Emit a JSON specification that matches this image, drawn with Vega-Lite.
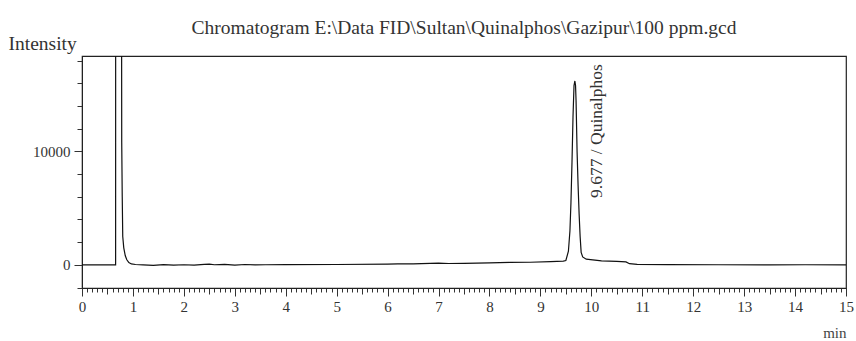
{
  "$schema": "https://vega.github.io/schema/vega-lite/v6.json",
  "width": 764,
  "height": 232,
  "autosize": "none",
  "padding": {"left": 82, "top": 56, "right": 10, "bottom": 53},
  "background": "white",
  "config": {"view": {"stroke": "#222", "strokeWidth": 1.2}, "font": "Liberation Serif"},
  "title": {"text": "Chromatogram E:\\Data FID\\Sultan\\Quinalphos\\Gazipur\\100 ppm.gcd", "fontSize": 19.5, "font": "Liberation Serif", "fontWeight": "normal", "color": "#333", "offset": -5, "anchor": "middle"},
  "layer": [
    {
      "data": {"values": [
        {"t": 0, "v": 0}, {"t": 0.66, "v": 0}, {"t": 0.661, "v": 30000}, {"t": 0.775, "v": 30000},
        {"t": 0.78, "v": 10800}, {"t": 0.79, "v": 6000}, {"t": 0.8, "v": 2500}, {"t": 0.82, "v": 1500},
        {"t": 0.85, "v": 800}, {"t": 0.88, "v": 450}, {"t": 0.92, "v": 200}, {"t": 0.97, "v": 80},
        {"t": 1.05, "v": 30}, {"t": 1.2, "v": 0}, {"t": 1.4, "v": -40}, {"t": 1.6, "v": 20},
        {"t": 1.8, "v": -30}, {"t": 2.0, "v": 10}, {"t": 2.2, "v": -20}, {"t": 2.4, "v": 40},
        {"t": 2.5, "v": 70}, {"t": 2.6, "v": 10}, {"t": 2.8, "v": 50}, {"t": 3.0, "v": -20},
        {"t": 3.2, "v": 30}, {"t": 3.4, "v": -10}, {"t": 3.6, "v": 10}, {"t": 4.0, "v": 20},
        {"t": 5.0, "v": 30}, {"t": 6.0, "v": 60}, {"t": 6.2, "v": 80}, {"t": 6.5, "v": 90},
        {"t": 7.0, "v": 150}, {"t": 7.2, "v": 120}, {"t": 7.5, "v": 130}, {"t": 8.0, "v": 170},
        {"t": 8.4, "v": 210}, {"t": 8.8, "v": 230}, {"t": 9.2, "v": 280}, {"t": 9.45, "v": 330},
        {"t": 9.5, "v": 380}, {"t": 9.55, "v": 1200}, {"t": 9.58, "v": 3000}, {"t": 9.6, "v": 5500},
        {"t": 9.62, "v": 9000}, {"t": 9.64, "v": 13000}, {"t": 9.66, "v": 15800}, {"t": 9.677, "v": 16200},
        {"t": 9.69, "v": 15800}, {"t": 9.7, "v": 14500}, {"t": 9.72, "v": 10000}, {"t": 9.74, "v": 7000},
        {"t": 9.76, "v": 4500}, {"t": 9.78, "v": 2500}, {"t": 9.8, "v": 1100}, {"t": 9.83, "v": 700},
        {"t": 9.9, "v": 500}, {"t": 10.2, "v": 350}, {"t": 10.5, "v": 300}, {"t": 10.68, "v": 260},
        {"t": 10.75, "v": 100}, {"t": 10.9, "v": 40}, {"t": 11.5, "v": 20}, {"t": 12.5, "v": 10},
        {"t": 13.5, "v": 0}, {"t": 14.2, "v": 10}, {"t": 15, "v": 0}
      ]},
      "mark": {"type": "line", "color": "#111", "strokeWidth": 1.2, "clip": true},
      "encoding": {
        "x": {
          "field": "t", "type": "quantitative",
          "scale": {"domain": [0, 15], "nice": false, "zero": false},
          "axis": {
            "values": [0,0.1,0.2,0.3,0.4,0.5,0.6,0.7,0.8,0.9,1,1.1,1.2,1.3,1.4,1.5,1.6,1.7,1.8,1.9,2,2.1,2.2,2.3,2.4,2.5,2.6,2.7,2.8,2.9,3,3.1,3.2,3.3,3.4,3.5,3.6,3.7,3.8,3.9,4,4.1,4.2,4.3,4.4,4.5,4.6,4.7,4.8,4.9,5,5.1,5.2,5.3,5.4,5.5,5.6,5.7,5.8,5.9,6,6.1,6.2,6.3,6.4,6.5,6.6,6.7,6.8,6.9,7,7.1,7.2,7.3,7.4,7.5,7.6,7.7,7.8,7.9,8,8.1,8.2,8.3,8.4,8.5,8.6,8.7,8.8,8.9,9,9.1,9.2,9.3,9.4,9.5,9.6,9.7,9.8,9.9,10,10.1,10.2,10.3,10.4,10.5,10.6,10.7,10.8,10.9,11,11.1,11.2,11.3,11.4,11.5,11.6,11.7,11.8,11.9,12,12.1,12.2,12.3,12.4,12.5,12.6,12.7,12.8,12.9,13,13.1,13.2,13.3,13.4,13.5,13.6,13.7,13.8,13.9,14,14.1,14.2,14.3,14.4,14.5,14.6,14.7,14.8,14.9,15],
            "tickCount": 1000,
            "tickSize": {"condition": [{"test": "abs(datum.value - round(datum.value)) < 0.001", "value": 8}, {"test": "abs(datum.value*2 - round(datum.value*2)) < 0.001", "value": 6}], "value": 4},
            "labelExpr": "abs(datum.value - round(datum.value)) < 0.001 ? format(round(datum.value), 'd') : ''",
            "labelOverlap": false,
            "labelFlush": false,
            "labelFontSize": 15,
            "labelColor": "#333",
            "labelPadding": 3,
            "grid": false,
            "domainColor": "#222",
            "tickColor": "#333",
            "title": "min",
            "titleX": 764,
            "titleY": 49,
            "titleAlign": "right",
            "titleBaseline": "alphabetic",
            "titleFontSize": 15,
            "titleFontWeight": "normal",
            "titleColor": "#444"
          }
        },
        "y": {
          "field": "v", "type": "quantitative",
          "scale": {"domain": [-2040, 18400], "nice": false, "zero": false},
          "axis": {
            "values": [-2000, 0, 2000, 4000, 6000, 8000, 10000, 12000, 14000, 16000, 18000],
            "tickCount": 100,
            "tickSize": {"condition": {"test": "datum.value === 0 || datum.value === 10000", "value": 8}, "value": 5},
            "labelExpr": "datum.value === 0 || datum.value === 10000 ? format(datum.value, 'd') : ''",
            "labelOverlap": false,
            "labelFontSize": 15,
            "labelColor": "#333",
            "labelPadding": 4,
            "grid": false,
            "domainColor": "#222",
            "tickColor": "#333",
            "title": "Intensity",
            "titleAngle": 0,
            "titleX": -74,
            "titleY": -7,
            "titleAlign": "left",
            "titleBaseline": "alphabetic",
            "titleFontSize": 19.5,
            "titleFontWeight": "normal",
            "titleColor": "#333"
          }
        }
      }
    },
    {
      "data": {"values": [{"rt": 9.677, "h": 16200, "label": "9.677 / Quinalphos"}]},
      "mark": {"type": "text", "angle": 270, "align": "left", "baseline": "middle", "xOffset": 22, "yOffset": 117, "fontSize": 17.5, "font": "Liberation Serif", "color": "#333"},
      "encoding": {
        "x": {"field": "rt", "type": "quantitative"},
        "y": {"field": "h", "type": "quantitative"},
        "text": {"field": "label"}
      }
    }
  ]
}
